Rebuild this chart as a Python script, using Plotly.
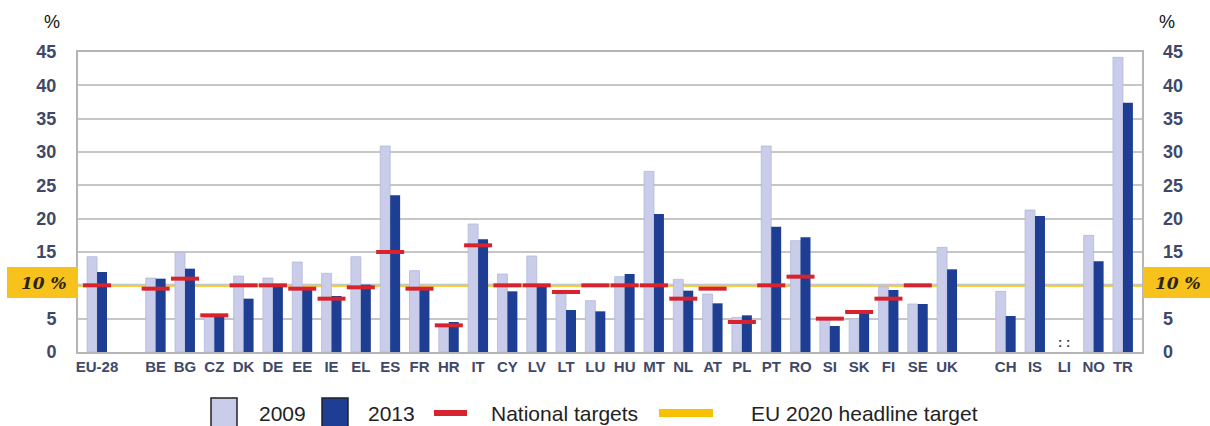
import plotly.graph_objects as go

categories = ["EU-28", " ", "BE", "BG", "CZ", "DK", "DE", "EE", "IE", "EL", "ES", "FR", "HR",
              "IT", "CY", "LV", "LT", "LU", "HU", "MT", "NL", "AT", "PL", "PT", "RO", "SI",
              "SK", "FI", "SE", "UK", "  ", "CH", "IS", "LI", "NO", "TR"]
v2009 = [14.3, None, 11.1, 14.9, 5.5, 11.4, 11.1, 13.5, 11.8, 14.3, 30.9, 12.2, 4.0,
         19.2, 11.7, 14.4, 8.7, 7.7, 11.3, 27.1, 10.9, 8.7, 5.2, 30.9, 16.7, 5.0,
         5.0, 9.8, 7.2, 15.7, None, 9.1, 21.3, None, 17.5, 44.2]
v2013 = [12.0, None, 11.0, 12.5, 5.5, 8.0, 10.0, 9.5, 8.4, 10.1, 23.5, 9.7, 4.5,
         16.9, 9.1, 9.9, 6.3, 6.1, 11.7, 20.7, 9.2, 7.3, 5.5, 18.8, 17.2, 3.9,
         6.3, 9.3, 7.2, 12.4, None, 5.4, 20.4, None, 13.6, 37.4]
targets = [10.0, None, 9.5, 11.0, 5.5, 10.0, 10.0, 9.5, 8.0, 9.7, 15.0, 9.5, 4.0,
           16.0, 10.0, 10.0, 9.0, 10.0, 10.0, 10.0, 8.0, 9.5, 4.5, 10.0, 11.3, 5.0,
           6.0, 8.0, 10.0, None, None, None, None, None, None, None]
headline_target = 10
not_available = {"LI": ": :"}
y_ticks = [0, 5, 10, 15, 20, 25, 30, 35, 40, 45]
y_ticktext = ["0", "5", "", "15", "20", "25", "30", "35", "40", "45"]
legend_labels = ["2009", "2013", "National targets", "EU 2020 headline target"]

C_LIGHT = "#C9CDE9"
C_DARK = "#1D3E93"
C_RED = "#D6232E"
C_YEL = "#F5C100"
C_TXT = "#3F4868"

# plot area in pixels
L, R, T, B = 78, 1142, 52, 352
W, H = 1210, 426


def px(x):
    return (x - L) / (R - L)


def py(y):
    return (B - y) / (B - T)


fig = go.Figure()
fig.add_trace(go.Bar(x=categories, y=v2009, name="2009", marker=dict(color=C_LIGHT, line=dict(color="#B4B9DA", width=0.8))))
fig.add_trace(go.Bar(x=categories, y=v2013, name="2013", marker=dict(color=C_DARK, line=dict(width=0))))
fig.add_trace(go.Scatter(x=categories, y=targets, mode="markers", name="National targets",
                         marker=dict(symbol="line-ew", size=20, line=dict(color=C_RED, width=4))))
fig.add_trace(go.Scatter(x=categories, y=[headline_target] * len(categories), mode="lines", yaxis="y2",
                         line=dict(color="rgba(0,0,0,0)"), hoverinfo="skip", showlegend=False))

# headline target line (behind bars, above grid)
fig.add_shape(type="line", xref="paper", yref="y", x0=0, x1=1, y0=headline_target, y1=headline_target,
              line=dict(color=C_YEL, width=3), layer="between")

# "10 %" boxes
for (x0, x1) in [(7, 78), (1143, 1210)]:
    fig.add_shape(type="rect", xref="paper", yref="paper", x0=px(x0), x1=px(x1), y0=py(298), y1=py(267),
                  fillcolor="#F7C21C", line=dict(width=0), layer="above")
    fig.add_annotation(xref="paper", yref="paper", x=px((x0 + x1) / 2 + 1), y=py(283),
                       xanchor="center", yanchor="middle",
                       text="<b><i>%d %%</i></b>" % headline_target, showarrow=False,
                       font=dict(family="DejaVu Serif", size=17, color="#2B2410"))

# not available marks
for cat, txt in not_available.items():
    fig.add_annotation(x=cat, y=1.5, text="<b>%s</b>" % txt, showarrow=False,
                       xanchor="center", yanchor="middle",
                       font=dict(family="Liberation Sans", size=13, color="#333"))

# % labels
for xp in (52, 1167):
    fig.add_annotation(xref="paper", yref="paper", x=px(xp), y=py(22), text="%", showarrow=False,
                       xanchor="center", yanchor="middle",
                       font=dict(family="Liberation Sans", size=18, color="#111"))

# manual legend
ly0, ly1, lyc = 398, 428, 413
fig.add_shape(type="rect", xref="paper", yref="paper", x0=px(211), x1=px(237), y0=py(ly1), y1=py(ly0),
              fillcolor=C_LIGHT, line=dict(color="#222", width=1.5))
fig.add_shape(type="rect", xref="paper", yref="paper", x0=px(322), x1=px(348), y0=py(ly1), y1=py(ly0),
              fillcolor=C_DARK, line=dict(color="#222", width=1.5))
fig.add_shape(type="line", xref="paper", yref="paper", x0=px(434), x1=px(467), y0=py(lyc), y1=py(lyc),
              line=dict(color=C_RED, width=6))
fig.add_shape(type="line", xref="paper", yref="paper", x0=px(659), x1=px(713), y0=py(lyc), y1=py(lyc),
              line=dict(color=C_YEL, width=8))
for xpos, lab in zip([257, 366, 489, 749], legend_labels):
    fig.add_annotation(xref="paper", yref="paper", x=px(xpos), y=py(lyc), text=lab, showarrow=False,
                       xanchor="left", yanchor="middle",
                       font=dict(family="Liberation Sans", size=21, color="#222"))

fig.update_layout(
    width=W, height=H,
    margin=dict(l=L, r=W - R, t=T, b=H - B),
    paper_bgcolor="white", plot_bgcolor="white",
    barmode="group", bargap=0.32, bargroupgap=0,
    showlegend=False,
    xaxis=dict(type="category", categoryorder="array", categoryarray=categories,
               range=[-0.65, len(categories) - 0.35], showgrid=False, ticks="",
               showline=True, linecolor="#B5B5B5", linewidth=2, mirror=True,
               tickfont=dict(family="Liberation Sans", size=15, color=C_TXT, weight="bold")),
    yaxis=dict(range=[0, 45], tickvals=y_ticks, ticktext=y_ticktext, showgrid=True,
               gridcolor="#C6C6C6", gridwidth=1.5, zeroline=False, ticks="",
               showline=True, linecolor="#B5B5B5", linewidth=2, mirror=True,
               ticklabelstandoff=16,
               tickfont=dict(family="Liberation Sans", size=18, color=C_TXT, weight="bold")),
    yaxis2=dict(range=[0, 45], tickvals=y_ticks, ticktext=y_ticktext, overlaying="y", side="right",
                showgrid=False, zeroline=False, ticks="", ticklabelstandoff=20,
                tickfont=dict(family="Liberation Sans", size=18, color=C_TXT, weight="bold")),
)

fig.write_html("out.html")
